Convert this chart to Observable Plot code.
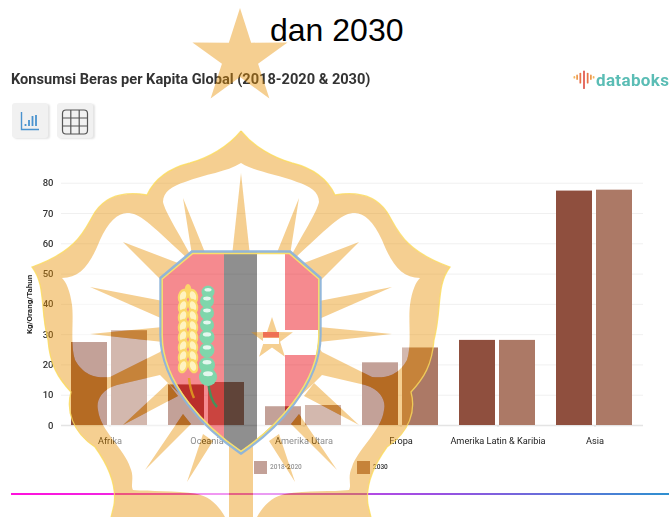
<!DOCTYPE html>
<html lang="id">
<head>
<meta charset="utf-8">
<script src="https://cdn.jsdelivr.net/npm/d3@7"></script>
<script src="https://cdn.jsdelivr.net/npm/@observablehq/plot@0.6"></script>
<style>
html,body{margin:0;padding:0;background:#fff;}
body{position:relative;width:669px;height:517px;overflow:hidden;font-family:Roboto,sans-serif;}
.abs{position:absolute;white-space:nowrap;}
.soft{filter:blur(.4px);}
#headline{left:270px;top:12px;font:32px/36px "Liberation Sans",Arial,sans-serif;color:#000;z-index:5;}
#title{left:11px;top:71px;font:700 14.6px/16px Roboto,sans-serif;color:#333;}
#brand{left:596px;top:68px;font:700 17px/24px Roboto,sans-serif;color:#5bbdb5;letter-spacing:.35px;}
.btn{top:103px;width:36px;height:35px;background:#f1f1f1;border-radius:3px;box-shadow:2px 1px 2px #e4e4e4;}
#chart{left:0;top:170px;}
.sw{top:461px;width:13px;height:13px;}
.lg{top:463px;font:500 6.5px/9px Roboto,sans-serif;color:#333;}
#rule{left:11px;top:493px;width:658px;height:2px;background:linear-gradient(90deg,#ff10dc 0%,#e040e8 35%,#9a50e2 65%,#2e90d0 100%);}
#mark{left:0;top:0;pointer-events:none;}
</style>
</head>
<body>
<div class="abs soft" id="title">Konsumsi Beras per Kapita Global (2018-2020 &amp; 2030)</div>
<svg class="abs soft" style="left:573px;top:69px" width="22" height="22" viewBox="0 0 24 22" fill="none" stroke-linecap="round" stroke-width="1.9">
  <path d="M12 1.5V20" stroke="#e2574c"/><path d="M8 4V14" stroke="#e8734a"/><path d="M16 4V14" stroke="#e8734a"/>
  <path d="M4.5 6V10" stroke="#ee9a4d"/><path d="M19.5 6V10" stroke="#ee9a4d"/><path d="M1.5 7.5V8.5" stroke="#f2b45a"/><path d="M22.5 7.5V8.5" stroke="#f2b45a"/>
</svg>
<div class="abs soft" id="brand">databoks</div>
<div class="abs btn soft" style="left:12px">
  <svg width="36" height="35" fill="none" stroke="#4a93cf"><path d="M9.5 9V26.5H27" stroke-width="1.4"/><path d="M13.5 23V21M17 23V17M20.5 23V13M24 23V12" stroke-width="1.8"/></svg>
</div>
<div class="abs btn soft" style="left:57px">
  <svg width="36" height="35" fill="none" stroke="#555" stroke-width="1.2"><rect x="5.5" y="7" width="25" height="24" rx="3.5"/><path d="M5.5 15H30.5M5.5 23H30.5M13.8 7V31M22.2 7V31"/></svg>
</div>
<div class="abs soft" id="chart"></div>
<div class="abs sw soft" id="sw0" style="left:254px"></div>
<div class="abs lg soft" id="lg0" style="left:270px"></div>
<div class="abs sw soft" id="sw1" style="left:357px"></div>
<div class="abs lg soft" id="lg1" style="left:373px"></div>
<div class="abs" id="rule"></div>

<svg class="abs soft" id="mark" width="669" height="517" viewBox="0 0 669 517">
  <defs>
    <path id="edgeL" d="M241,131 C228,147 208,158 190,163 C170,168 155,178 147,195 C130,192 108,193 95,212 C85,228 80,250 32,267 C46,285 40,310 48,340 C50,365 58,378 71,392 C66,410 72,432 95,447 C108,465 117,485 114,505 L108,530"/>
    <path id="outerL" d="M242,131 L241,131 C228,147 208,158 190,163 C170,168 155,178 147,195 C130,192 108,193 95,212 C85,228 80,250 32,267 C46,285 40,310 48,340 C50,365 58,378 71,392 C66,410 72,432 95,447 C108,465 117,485 114,505 L108,530 L242,530 Z"/>
    <path id="holeTop" d="M241,163 C255,172 277,174 297,182 C310,186 319,192 319,202 C317,212 302,235 290,258 L192,258 C180,235 165,212 163,202 C163,192 172,186 185,182 C205,174 227,172 241,163 Z"/>
    <path id="holeL" d="M62,278 C80,278 90,265 100,240 C108,222 118,213 127,213 C140,213 148,222 187,258 L165,345 L160,352 L110,377 C100,378 85,378 75,360 C70,345 74,320 72,305 C70,290 66,282 62,278 Z"/>
    <path id="holeB" d="M160,375 L117,385 C100,390 96,402 98,410 C100,430 125,450 130,467 C135,478 130,485 133,490 C150,492 175,490 197,494 C210,497 220,505 229,525 L229,440 L170,385 Z"/>
    <path id="spikes" d="M183,198 L192,255 L206,255 Z M123,242 L162,281 L178,263 Z M90,287 L163,301 L163,319 Z M90,334 L163,327 L163,342 Z M123,425 L168,383 L178,396 Z M145,470 L183,414 L191,424 Z M187,482 L203,434 L213,441 Z"/>
    <path id="spikeC" d="M241,173 L232,256 L250,256 Z"/>
    <path id="shield" d="M192,252 L290,252 L320,278 L320,335 C320,385 275,430 241,453 C207,430 161,385 161,335 L161,278 Z"/>
    <clipPath id="shClip"><use href="#shield"/></clipPath>
    <mask id="bandM" maskUnits="userSpaceOnUse" x="0" y="0" width="669" height="517">
      <use href="#outerL" fill="#fff"/><use href="#outerL" fill="#fff" transform="matrix(-1 0 0 1 482 0)"/>
      <use href="#holeTop" fill="#000"/>
      <use href="#holeL" fill="#000"/><use href="#holeL" fill="#000" transform="matrix(-1 0 0 1 482 0)"/>
      <use href="#holeB" fill="#000"/><use href="#holeB" fill="#000" transform="matrix(-1 0 0 1 482 0)"/>
      <use href="#spikes" fill="#fff"/><use href="#spikes" fill="#fff" transform="matrix(-1 0 0 1 482 0)"/><use href="#spikeC" fill="#fff"/>
      <use href="#shield" fill="#000"/>
    </mask>
    <mask id="veilM" maskUnits="userSpaceOnUse" x="0" y="0" width="669" height="517">
      <use href="#holeTop" fill="#fff"/>
      <use href="#holeL" fill="#fff"/><use href="#holeL" fill="#fff" transform="matrix(-1 0 0 1 482 0)"/>
      <use href="#holeB" fill="#fff"/><use href="#holeB" fill="#fff" transform="matrix(-1 0 0 1 482 0)"/>
      <use href="#spikes" fill="#000"/><use href="#spikes" fill="#000" transform="matrix(-1 0 0 1 482 0)"/><use href="#spikeC" fill="#000"/>
      <use href="#shield" fill="#000"/>
    </mask>
  </defs>
  <polygon id="crown" fill="#e88f00" fill-opacity=".43"/>
  <rect width="669" height="517" fill="#fff" fill-opacity=".47" mask="url(#veilM)"/>
  <rect width="669" height="517" fill="#e88f00" fill-opacity=".43" mask="url(#bandM)"/>
  <g fill="none" stroke="#fbdc5c" stroke-width="1.3" stroke-opacity=".8">
    <use href="#edgeL"/><use href="#edgeL" transform="matrix(-1 0 0 1 482 0)"/>
  </g>
  <g clip-path="url(#shClip)">
    <rect x="155" y="250" width="69" height="210" fill="#eb0a14" fill-opacity=".48"/>
    <rect x="224" y="250" width="33" height="210" fill="#000" fill-opacity=".44"/>
    <rect x="257" y="250" width="28" height="210" fill="#fff" fill-opacity=".47"/>
    <rect x="285" y="250" width="40" height="80" fill="#eb0a14" fill-opacity=".48"/>
    <rect x="285" y="330" width="40" height="25" fill="#fff" fill-opacity=".47"/>
    <rect x="285" y="355" width="40" height="105" fill="#eb0a14" fill-opacity=".48"/>
    <polygon id="innerStar" fill="#e88f00" fill-opacity=".43"/>
    <rect x="263" y="332" width="16" height="5.5" fill="#eb0a14" fill-opacity=".48"/>
    <rect x="263" y="338" width="16" height="6" fill="#fff"/>
    <path d="M189,378 C190,388 192,394 194,398" fill="none" stroke="#e0a020" stroke-width="2.5" stroke-opacity=".85"/>
    <path d="M208,380 C209,392 212,402 217,407" fill="none" stroke="#2ea060" stroke-width="2.5" stroke-opacity=".85"/>
    <g id="grain"></g>
    <g id="beads"></g>
  </g>
  <use href="#shield" fill="none" stroke="#8db4da" stroke-width="3.4" stroke-opacity=".95"/>
  <use href="#shield" fill="none" stroke="#f9e06a" stroke-width="1.5" transform="translate(241 345) scale(.985) translate(-241 -345)"/>
</svg>

<script>
/* Chart values */
const categories = ["Afrika", "Oceania", "Amerika Utara", "Eropa", "Amerika Latin & Karibia", "Asia"];
const seriesNames = ["2018-2020", "2030"];
const values2018 = [27.4, 13.4, 6.2, 20.7, 28.1, 77.4];
const values2030 = [31.3, 14.2, 6.6, 25.6, 28.1, 77.7];
const yTicks = [0, 10, 20, 30, 40, 50, 60, 70, 80];
const seriesColors = ["#8f4f3e", "#ac7966"];
const yLabel = "Kg/Orang/Tahun";
const headline = "dan 2030";

const rows = categories.flatMap((category, i) => [
  {category, series: seriesNames[0], value: values2018[i]},
  {category, series: seriesNames[1], value: values2030[i]}
]);

const plot = Plot.plot({
  width: 669,
  height: 285,
  marginTop: 12.7,
  marginBottom: 30,
  marginLeft: 60,
  marginRight: 26,
  style: {fontFamily: "Roboto, sans-serif", background: "transparent"},
  fx: {domain: categories, padding: 0, label: null},
  x: {domain: seriesNames, paddingInner: 0.098, paddingOuter: 0.234, axis: null},
  y: {domain: [0, 80], label: null},
  color: {domain: seriesNames, range: seriesColors},
  marks: [
    Plot.gridY(yTicks, {stroke: "#f0f0f0", strokeOpacity: 1}),
    Plot.ruleY([0], {stroke: "#e4e4e4", strokeWidth: 1.3}),
    Plot.barY(rows, {fx: "category", x: "series", y: "value", fill: "series"}),
    Plot.axisY(yTicks, {tickSize: 0, tickPadding: 8, fontSize: 9.5, fontWeight: 500, fill: "#333", label: null}),
    Plot.axisY({ticks: [], label: yLabel, labelAnchor: "center", labelArrow: "none", labelOffset: 35, fontSize: 8, fontWeight: 700, fill: "#222"}),
    Plot.axisFx({anchor: "bottom", tickSize: 2, stroke: "#ddd", tickPadding: 10, fontSize: 9.2, fontWeight: 400, fill: "#222", label: null})
  ]
});
document.getElementById("chart").appendChild(plot);

/* Header and legend text from the same lists */
const h = document.createElement("div");
h.className = "abs"; h.id = "headline"; h.textContent = headline;
document.body.appendChild(h);
seriesNames.forEach((name, i) => {
  document.getElementById("sw" + i).style.background = seriesColors[i];
  document.getElementById("lg" + i).textContent = name;
});

/* Decorative emblem watermark that lies over the chart */
function star(cx, cy, R, r) {
  return d3.range(10).map(k => {
    const a = -Math.PI / 2 + k * Math.PI / 5, q = k % 2 ? r : R;
    return [cx + q * Math.cos(a), cy + q * Math.sin(a)].join(",");
  }).join(" ");
}
document.getElementById("crown").setAttribute("points", star(240, 58, 50, 19));
document.getElementById("innerStar").setAttribute("points", star(272, 339, 22, 8.5));
const NS = "http://www.w3.org/2000/svg";
function add(parent, tag, attrs) {
  const el = document.createElementNS(NS, tag);
  Object.entries(attrs).forEach(([k, v]) => el.setAttribute(k, v));
  parent.appendChild(el);
}
const grain = document.getElementById("grain");
add(grain, "ellipse", {cx: 188, cy: 291, rx: 3.5, ry: 7, fill: "#fcd66a"});
[296, 306, 316, 326, 336, 346, 356, 366].forEach(cy => {
  [[183, 18], [193, -18]].forEach(([cx, rot]) => {
    add(grain, "ellipse", {cx, cy, rx: 5, ry: 7.5, fill: "#fbd868", transform: `rotate(${rot} ${cx} ${cy})`});
    add(grain, "ellipse", {cx, cy, rx: 3, ry: 5, fill: "#fff3c0", transform: `rotate(${rot} ${cx} ${cy})`});
  });
});
const beads = document.getElementById("beads");
[[208, 292, 6.5], [207, 301, 7], [207, 313, 7], [207, 325, 7], [207, 337, 7.5], [207, 350, 7.5], [207, 365, 8], [208, 377, 9]].forEach(([cx, cy, r]) => {
  add(beads, "circle", {cx, cy, r, fill: "#7fd6ab"});
  add(beads, "ellipse", {cx, cy: cy - r * .35, rx: r * .55, ry: r * .28, fill: "#e4f7ee"});
});
</script>
</body>
</html>
